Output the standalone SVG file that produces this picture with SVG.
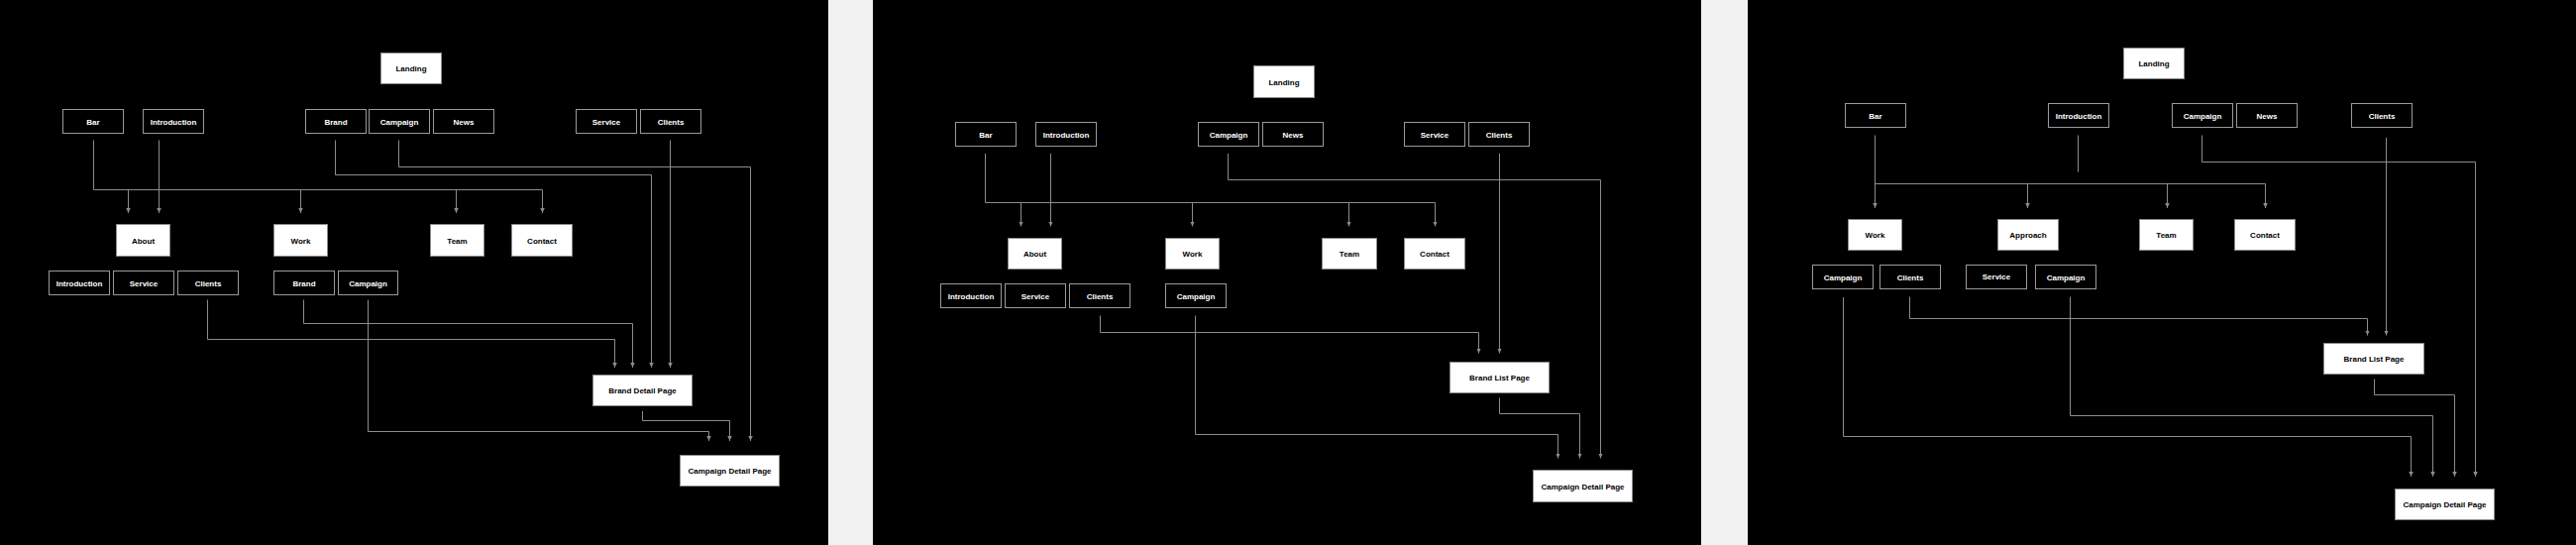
<svg xmlns="http://www.w3.org/2000/svg" width="2600" height="550" viewBox="0 0 2600 550">
<style>
.panel{fill:#000}
.ob{fill:#000;stroke:#9a9a9a;stroke-width:1}
.wb{fill:#fff;stroke:#8a8a8a;stroke-width:1}
.lt{fill:#fff;font-family:"Liberation Sans",Arial,sans-serif;font-weight:bold;font-size:8px;text-anchor:middle}
.dt{fill:#000;font-family:"Liberation Sans",Arial,sans-serif;font-weight:bold;font-size:8px;text-anchor:middle}
.ln{fill:none;stroke:#8c8c8c;stroke-width:1}
.ar{marker-end:url(#ah)}
</style>
<defs>
<marker id="ah" markerUnits="userSpaceOnUse" markerWidth="5" markerHeight="5" viewBox="0 0 10 10" refX="10" refY="5" orient="auto">
<path d="M0,0.5 L10,5 L0,9.5 z" fill="#8c8c8c"/>
</marker>
</defs>
<rect width="2600" height="550" fill="#f2f2f2"/>
<rect class="panel" x="0" y="0" width="836" height="550"/>
<rect class="panel" x="881" y="0" width="836" height="550"/>
<rect class="panel" x="1764" y="0" width="836" height="550"/>

<g id="connectors">
<!-- panel 1 -->
<path class="ln" d="M94.5,141.5 V191.5 H547.5"/>
<path class="ln ar" d="M547.5,191.5 V215"/>
<path class="ln ar" d="M129.5,191.5 V215"/>
<path class="ln ar" d="M303.5,191.5 V215"/>
<path class="ln ar" d="M460.5,191.5 V215"/>
<path class="ln ar" d="M160.5,141.5 V215"/>
<path class="ln ar" d="M338.5,141.5 V176.5 H657.5 V371"/>
<path class="ln ar" d="M402.5,141.5 V168.5 H757.5 V445"/>
<path class="ln ar" d="M676.5,141.5 V371"/>
<path class="ln ar" d="M209.5,302.5 V342.5 H620.5 V371"/>
<path class="ln ar" d="M306.5,302.5 V326.5 H638.5 V371"/>
<path class="ln ar" d="M371.5,302.5 V435.5 H715.5 V445"/>
<path class="ln ar" d="M648.5,415 V424.5 H736.5 V445"/>
<!-- panel 2 -->
<path class="ln" d="M994.5,155 V204.5 H1448.5"/>
<path class="ln ar" d="M1448.5,204.5 V228.5"/>
<path class="ln ar" d="M1030.5,204.5 V228.5"/>
<path class="ln ar" d="M1203.5,204.5 V228.5"/>
<path class="ln ar" d="M1361.5,204.5 V228.5"/>
<path class="ln ar" d="M1060.5,155 V228.5"/>
<path class="ln ar" d="M1239.5,155 V181.5 H1615.5 V462.5"/>
<path class="ln ar" d="M1513.5,155 V356.5"/>
<path class="ln ar" d="M1110.5,318.5 V335.5 H1492.5 V356.5"/>
<path class="ln ar" d="M1206.5,318.5 V438.5 H1572.5 V462.5"/>
<path class="ln ar" d="M1513.5,401.5 V417.5 H1594.5 V462.5"/>
<!-- panel 3 -->
<path class="ln ar" d="M1892.5,136.5 V210"/>
<path class="ln" d="M1892.5,185.5 H2286.5"/>
<path class="ln ar" d="M2286.5,185.5 V210"/>
<path class="ln ar" d="M2046.5,185.5 V210"/>
<path class="ln ar" d="M2187.5,185.5 V210"/>
<path class="ln" d="M2097.5,136.5 V173.5"/>
<path class="ln ar" d="M2222.5,136.5 V163.5 H2498.5 V481"/>
<path class="ln ar" d="M2408.5,139 V338.5"/>
<path class="ln ar" d="M1860.5,300 V440.5 H2433.5 V481"/>
<path class="ln ar" d="M1927.5,299.5 V321.5 H2389.5 V338.5"/>
<path class="ln ar" d="M2089.5,299.5 V419.5 H2455.5 V481"/>
<path class="ln ar" d="M2396.5,382.5 V398.5 H2477.5 V481"/>
</g>

<!-- panel 1 nodes -->
<g id="p1-landing"><rect class="wb" x="384.5" y="53.5" width="61" height="31"/><text class="dt" x="415" y="72">Landing</text></g>
<g id="p1-bar"><rect class="ob" x="63.5" y="110.5" width="61" height="24"/><text class="lt" x="94" y="125.5">Bar</text></g>
<g id="p1-introduction"><rect class="ob" x="144.5" y="110.5" width="61" height="24"/><text class="lt" x="175" y="125.5">Introduction</text></g>
<g id="p1-brand"><rect class="ob" x="308.5" y="110.5" width="61" height="24"/><text class="lt" x="339" y="125.5">Brand</text></g>
<g id="p1-campaign"><rect class="ob" x="372.5" y="110.5" width="61" height="24"/><text class="lt" x="403" y="125.5">Campaign</text></g>
<g id="p1-news"><rect class="ob" x="437.5" y="110.5" width="61" height="24"/><text class="lt" x="468" y="125.5">News</text></g>
<g id="p1-service"><rect class="ob" x="581.5" y="110.5" width="61" height="24"/><text class="lt" x="612" y="125.5">Service</text></g>
<g id="p1-clients"><rect class="ob" x="646.5" y="110.5" width="61" height="24"/><text class="lt" x="677" y="125.5">Clients</text></g>
<g id="p1-about"><rect class="wb" x="117.5" y="226.5" width="54" height="32"/><text class="dt" x="144.5" y="245.5">About</text></g>
<g id="p1-work"><rect class="wb" x="276.5" y="226.5" width="54" height="32"/><text class="dt" x="303.5" y="245.5">Work</text></g>
<g id="p1-team"><rect class="wb" x="434.5" y="226.5" width="54" height="32"/><text class="dt" x="461.5" y="245.5">Team</text></g>
<g id="p1-contact"><rect class="wb" x="516.5" y="226.5" width="61" height="32"/><text class="dt" x="547" y="245.5">Contact</text></g>
<g id="p1-about-introduction"><rect class="ob" x="49.5" y="273.5" width="61" height="24"/><text class="lt" x="80" y="288.5">Introduction</text></g>
<g id="p1-about-service"><rect class="ob" x="114.5" y="273.5" width="61" height="24"/><text class="lt" x="145" y="288.5">Service</text></g>
<g id="p1-about-clients"><rect class="ob" x="179.5" y="273.5" width="61" height="24"/><text class="lt" x="210" y="288.5">Clients</text></g>
<g id="p1-work-brand"><rect class="ob" x="276.5" y="273.5" width="61" height="24"/><text class="lt" x="307" y="288.5">Brand</text></g>
<g id="p1-work-campaign"><rect class="ob" x="341.5" y="273.5" width="60" height="24"/><text class="lt" x="371.5" y="288.5">Campaign</text></g>
<g id="p1-brand-detail"><rect class="wb" x="598.5" y="378.5" width="100" height="31"/><text class="dt" x="648.5" y="397">Brand Detail Page</text></g>
<g id="p1-campaign-detail"><rect class="wb" x="686.5" y="459.5" width="100" height="31"/><text class="dt" x="736.5" y="478">Campaign Detail Page</text></g>

<!-- panel 2 nodes -->
<g id="p2-landing"><rect class="wb" x="1265.5" y="66.5" width="61" height="32"/><text class="dt" x="1296" y="85.5">Landing</text></g>
<g id="p2-bar"><rect class="ob" x="964.5" y="123.5" width="61" height="24"/><text class="lt" x="995" y="138.5">Bar</text></g>
<g id="p2-introduction"><rect class="ob" x="1045.5" y="123.5" width="61" height="24"/><text class="lt" x="1076" y="138.5">Introduction</text></g>
<g id="p2-campaign"><rect class="ob" x="1209.5" y="123.5" width="61" height="24"/><text class="lt" x="1240" y="138.5">Campaign</text></g>
<g id="p2-news"><rect class="ob" x="1274.5" y="123.5" width="61" height="24"/><text class="lt" x="1305" y="138.5">News</text></g>
<g id="p2-service"><rect class="ob" x="1417.5" y="123.5" width="61" height="24"/><text class="lt" x="1448" y="138.5">Service</text></g>
<g id="p2-clients"><rect class="ob" x="1482.5" y="123.5" width="61" height="24"/><text class="lt" x="1513" y="138.5">Clients</text></g>
<g id="p2-about"><rect class="wb" x="1017.5" y="240.5" width="54" height="31"/><text class="dt" x="1044.5" y="259">About</text></g>
<g id="p2-work"><rect class="wb" x="1176.5" y="240.5" width="54" height="31"/><text class="dt" x="1203.5" y="259">Work</text></g>
<g id="p2-team"><rect class="wb" x="1334.5" y="240.5" width="55" height="31"/><text class="dt" x="1362" y="259">Team</text></g>
<g id="p2-contact"><rect class="wb" x="1417.5" y="240.5" width="61" height="31"/><text class="dt" x="1448" y="259">Contact</text></g>
<g id="p2-about-introduction"><rect class="ob" x="949.5" y="286.5" width="61" height="24"/><text class="lt" x="980" y="301.5">Introduction</text></g>
<g id="p2-about-service"><rect class="ob" x="1014.5" y="286.5" width="61" height="24"/><text class="lt" x="1045" y="301.5">Service</text></g>
<g id="p2-about-clients"><rect class="ob" x="1079.5" y="286.5" width="61" height="24"/><text class="lt" x="1110" y="301.5">Clients</text></g>
<g id="p2-work-campaign"><rect class="ob" x="1176.5" y="286.5" width="61" height="24"/><text class="lt" x="1207" y="301.5">Campaign</text></g>
<g id="p2-brand-list"><rect class="wb" x="1463.5" y="365.5" width="100" height="31"/><text class="dt" x="1513.5" y="384">Brand List Page</text></g>
<g id="p2-campaign-detail"><rect class="wb" x="1547.5" y="474.5" width="100" height="32"/><text class="dt" x="1597.5" y="493.5">Campaign Detail Page</text></g>

<!-- panel 3 nodes -->
<g id="p3-landing"><rect class="wb" x="2143.5" y="48.5" width="61" height="31"/><text class="dt" x="2174" y="67">Landing</text></g>
<g id="p3-bar"><rect class="ob" x="1862.5" y="104.5" width="61" height="24"/><text class="lt" x="1893" y="119.5">Bar</text></g>
<g id="p3-introduction"><rect class="ob" x="2067.5" y="104.5" width="61" height="24"/><text class="lt" x="2098" y="119.5">Introduction</text></g>
<g id="p3-campaign"><rect class="ob" x="2192.5" y="104.5" width="61" height="24"/><text class="lt" x="2223" y="119.5">Campaign</text></g>
<g id="p3-news"><rect class="ob" x="2257.5" y="104.5" width="61" height="24"/><text class="lt" x="2288" y="119.5">News</text></g>
<g id="p3-clients"><rect class="ob" x="2373.5" y="104.5" width="61" height="24"/><text class="lt" x="2404" y="119.5">Clients</text></g>
<g id="p3-work"><rect class="wb" x="1865.5" y="221.5" width="54" height="31"/><text class="dt" x="1892.5" y="240">Work</text></g>
<g id="p3-approach"><rect class="wb" x="2016.5" y="221.5" width="61" height="31"/><text class="dt" x="2047" y="240">Approach</text></g>
<g id="p3-team"><rect class="wb" x="2159.5" y="221.5" width="54" height="31"/><text class="dt" x="2186.5" y="240">Team</text></g>
<g id="p3-contact"><rect class="wb" x="2255.5" y="221.5" width="61" height="31"/><text class="dt" x="2286" y="240">Contact</text></g>
<g id="p3-work-campaign"><rect class="ob" x="1829.5" y="267.5" width="61" height="24"/><text class="lt" x="1860" y="282.5">Campaign</text></g>
<g id="p3-work-clients"><rect class="ob" x="1897.5" y="267.5" width="61" height="24"/><text class="lt" x="1928" y="282.5">Clients</text></g>
<g id="p3-approach-service"><rect class="ob" x="1984.5" y="267.5" width="61" height="24"/><text class="lt" x="2015" y="282">Service</text></g>
<g id="p3-approach-campaign"><rect class="ob" x="2054.5" y="267.5" width="61" height="24"/><text class="lt" x="2085" y="282.5">Campaign</text></g>
<g id="p3-brand-list"><rect class="wb" x="2345.5" y="346.5" width="101" height="31"/><text class="dt" x="2396" y="365">Brand List Page</text></g>
<g id="p3-campaign-detail"><rect class="wb" x="2417.5" y="493.5" width="100" height="31"/><text class="dt" x="2467.5" y="512">Campaign Detail Page</text></g>
</svg>
